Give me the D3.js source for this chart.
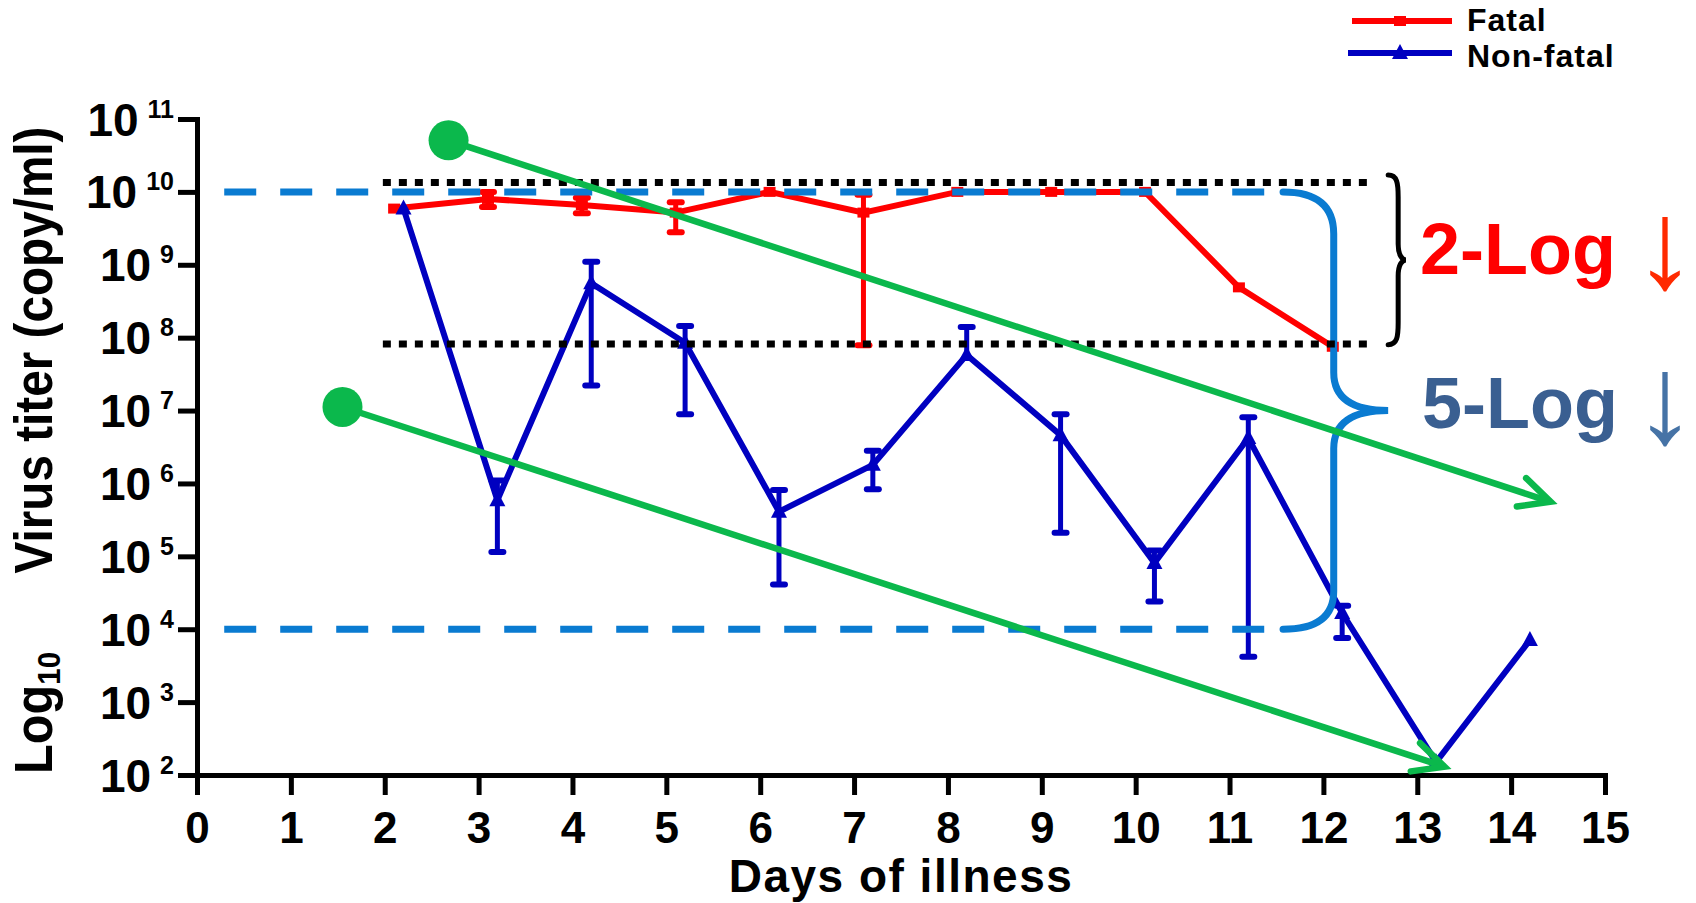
<!DOCTYPE html>
<html>
<head>
<meta charset="utf-8">
<script src="https://cdn.jsdelivr.net/npm/d3@7"></script>
<style>
  body { margin: 0; background: #fff; }
  text { font-family: "Liberation Sans", Arial, sans-serif; font-weight: bold; }
</style>
</head>
<body>
<script>
// tick values
var dayTicks = d3.range(0, 16);
var titerTicks = [1e2, 1e3, 1e4, 1e5, 1e6, 1e7, 1e8, 1e9, 1e10, 1e11];

// Fatal group (red)
var fatalDays = [2.1, 3.1, 4.1, 5.1, 6.1, 7.1, 8.1, 9.1, 10.1, 11.1, 12.1];
var fatalTiter = [5.9e9, 8.0e9, 6.6e9, 5.2e9, 1.0e10, 5.2e9, 1.0e10, 1.0e10, 1.0e10, 4.9e8, 7.5e7];
var fatalHigh = [null, 1.0e10, 8.3e9, 7.2e9, null, 9.1e9, null, null, null, null, null];
var fatalLow = [null, 6.2e9, 5.1e9, 2.8e9, null, 7.9e7, null, null, null, null, null];

// Non-fatal group (blue)
var nonFatalDays = [2.2, 3.2, 4.2, 5.2, 6.2, 7.2, 8.2, 9.2, 10.2, 11.2, 12.2, 13.2, 14.2];
var nonFatalTiter = [5.9e9, 5.9e5, 5.6e8, 8.5e7, 4.1e5, 1.8e6, 5.8e7, 4.6e6, 8.1e4, 4.2e6, 1.67e4, 1.5e2, 7.1e3];
var nonFatalHigh = [null, 1.1e6, 1.1e9, 1.45e8, 8.1e5, 2.8e6, 1.4e8, 8.9e6, 1.2e5, 8.1e6, 2.1e4, null, null];
var nonFatalLow = [null, 1.15e5, 2.2e7, 8.9e6, 4.1e4, 8.3e5, null, 2.1e5, 2.4e4, 4.2e3, 7.6e3, null, null];

// annotations (data units)
var dottedLevels = [1.35e10, 8.2e7];      // black dotted band (2-Log)
var dottedDays = [1.98, 12.47];
var dashedLevels = [1e10, 1e4];          // blue dashed band (5-Log)
var dashedDays = [0.29, 11.57];
var blueBrace = { day: 12.11, tipDay: 12.69, tip: 1e7 };
var blackBrace = { day: 12.69, tipDay: 12.88, top: 1.7e10, bottom: 8.0e7 };
var trendStart = [[2.68, 5.1e10], [1.55, 1.12e7]];
var trendEnd = [[14.42, 5.6e5], [13.29, 1.3e2]];

var W = 1696, H = 903;
var red = "#ff0000", blue = "#0000c0", green = "#0bb84c", lightBlue = "#0a7bd1";

var svg = d3.select("body").append("svg").attr("width", W).attr("height", H);

var x = d3.scaleLinear().domain([0, 15]).range([197, 1605]);
var y = d3.scaleLog().domain([1e2, 1e11]).range([775, 119]);

// axes
var gx = svg.append("g")
  .attr("transform", "translate(0," + y(1e2) + ")")
  .call(d3.axisBottom(x).tickValues(dayTicks).tickSize(20).tickSizeOuter(0).tickPadding(17));
var gy = svg.append("g")
  .attr("transform", "translate(" + x(0) + ",0)")
  .call(d3.axisLeft(y).tickValues(titerTicks).tickFormat("").tickSize(19).tickSizeOuter(0));

[gx, gy].forEach(function (g) {
  g.select(".domain").attr("stroke", "#000").attr("stroke-width", 5).attr("stroke-linecap", "square");
  g.selectAll(".tick line").attr("stroke", "#000").attr("stroke-width", 5);
});
gx.selectAll(".tick text")
  .attr("fill", "#000")
  .style("font-size", "44px");

// y labels: "10" with superscript exponent
gy.selectAll(".tick").each(function (d) {
  var e = Math.round(Math.log10(d));
  var t = d3.select(this);
  var sup = t.append("text")
    .attr("x", -23)
    .attr("y", -2)
    .attr("text-anchor", "end")
    .attr("fill", "#000")
    .style("font-size", "25px")
    .text(e);
  var w = sup.node().getComputedTextLength();
  t.append("text")
    .attr("x", -23 - w - 9)
    .attr("y", 16)
    .attr("text-anchor", "end")
    .attr("fill", "#000")
    .style("font-size", "46px")
    .text("10");
});

// axis titles
svg.append("text")
  .attr("x", (x(0) + x(15)) / 2)
  .attr("y", 892)
  .attr("text-anchor", "middle")
  .style("font-size", "46px")
  .style("letter-spacing", "1.5px")
  .text("Days of illness");

svg.append("g")
  .attr("transform", "translate(52," + 350 + ") rotate(-90) scale(0.9,1)")
  .append("text")
  .attr("text-anchor", "middle")
  .style("font-size", "53px")
  .text("Virus titer (copy/ml)");

var logLabel = svg.append("g")
  .attr("transform", "translate(52,774) rotate(-90) scale(0.92,1)")
  .append("text")
  .style("font-size", "53px");
logLabel.append("tspan").text("Log");
logLabel.append("tspan").attr("dy", 8).style("font-size", "32px").text("10");

// series
function drawSeries(days, titer, high, low, color, marker) {
  var pts = days.map(function (d, i) {
    return { day: d, v: titer[i], hi: high[i], lo: low[i] };
  });
  var g = svg.append("g");
  var line = d3.line().x(function (d) { return x(d.day); }).y(function (d) { return y(d.v); });

  var bars = g.selectAll(".err").data(pts.filter(function (d) { return d.hi || d.lo; }))
    .enter().append("g");
  bars.append("line")
    .attr("x1", function (d) { return x(d.day); })
    .attr("x2", function (d) { return x(d.day); })
    .attr("y1", function (d) { return y(d.hi || d.v); })
    .attr("y2", function (d) { return y(d.lo || d.v); })
    .attr("stroke", color).attr("stroke-width", 5);
  ["hi", "lo"].forEach(function (k) {
    bars.filter(function (d) { return d[k]; }).append("line")
      .attr("x1", function (d) { return x(d.day) - 6; })
      .attr("x2", function (d) { return x(d.day) + 6; })
      .attr("y1", function (d) { return y(d[k]); })
      .attr("y2", function (d) { return y(d[k]); })
      .attr("stroke", color).attr("stroke-width", 6).attr("stroke-linecap", "round");
  });

  g.append("path").datum(pts)
    .attr("d", line)
    .attr("fill", "none")
    .attr("stroke", color)
    .attr("stroke-width", 6)
    .attr("stroke-linejoin", "miter");

  g.selectAll(".mk").data(pts).enter().append("path")
    .attr("transform", function (d) { return "translate(" + x(d.day) + "," + y(d.v) + ")"; })
    .attr("d", marker)
    .attr("fill", color);
}

var square = "M-6,-5H6V5H-6Z";
var triangle = "M0,-9L8,6H-8Z";
drawSeries(fatalDays, fatalTiter, fatalHigh, fatalLow, red, square);
drawSeries(nonFatalDays, nonFatalTiter, nonFatalHigh, nonFatalLow, blue, triangle);

// blue dashed band with brace
dashedLevels.forEach(function (lv) {
  svg.append("line")
    .attr("x1", x(dashedDays[0])).attr("x2", x(dashedDays[1]))
    .attr("y1", y(lv)).attr("y2", y(lv))
    .attr("stroke", lightBlue).attr("stroke-width", 7)
    .attr("stroke-dasharray", "32,24");
});
(function () {
  var x0 = x(dashedDays[1]), xv = x(blueBrace.day), xt = x(blueBrace.tipDay);
  var y1 = y(dashedLevels[0]), y2 = y(dashedLevels[1]), yt = y(blueBrace.tip);
  var p = d3.path();
  p.moveTo(x0, y1);
  p.quadraticCurveTo(xv, y1, xv, y1 + 42);
  p.lineTo(xv, yt - 38);
  p.quadraticCurveTo(xv, yt, xt, yt);
  p.quadraticCurveTo(xv, yt, xv, yt + 38);
  p.lineTo(xv, y2 - 38);
  p.quadraticCurveTo(xv, y2, x0, y2);
  svg.append("path").attr("d", p.toString())
    .attr("fill", "none").attr("stroke", lightBlue)
    .attr("stroke-width", 7).attr("stroke-linecap", "round");
})();

// black dotted band with brace
dottedLevels.forEach(function (lv) {
  svg.append("line")
    .attr("x1", x(dottedDays[0])).attr("x2", x(dottedDays[1]))
    .attr("y1", y(lv)).attr("y2", y(lv))
    .attr("stroke", "#000").attr("stroke-width", 7)
    .attr("stroke-dasharray", "8,8");
});
(function () {
  var x0 = x(blackBrace.day), xt = x(blackBrace.tipDay);
  var top = y(blackBrace.top), bot = y(blackBrace.bottom), mid = (top + bot) / 2;
  var xs = x0 + 10;
  var p = d3.path();
  p.moveTo(x0, top);
  p.bezierCurveTo(x0 + 9, top, xs, top + 8, xs, top + 22);
  p.lineTo(xs, mid - 16);
  p.bezierCurveTo(xs, mid - 5, xt - 4, mid, xt, mid);
  p.bezierCurveTo(xt - 4, mid, xs, mid + 5, xs, mid + 16);
  p.lineTo(xs, bot - 22);
  p.bezierCurveTo(xs, bot - 8, x0 + 9, bot, x0, bot);
  svg.append("path").attr("d", p.toString())
    .attr("fill", "none").attr("stroke", "#000")
    .attr("stroke-width", 5).attr("stroke-linecap", "round");
})();

// green trend arrows
trendStart.forEach(function (s, i) {
  var e = trendEnd[i];
  var x1 = x(s[0]), y1 = y(s[1]), x2 = x(e[0]), y2 = y(e[1]);
  var a = Math.atan2(y2 - y1, x2 - x1);
  var g = svg.append("g");
  g.append("line")
    .attr("x1", x1).attr("y1", y1).attr("x2", x2).attr("y2", y2)
    .attr("stroke", green).attr("stroke-width", 6.5);
  var wing = 34, spread = 26 * Math.PI / 180;
  var p = d3.path();
  p.moveTo(x2 - wing * Math.cos(a - spread), y2 - wing * Math.sin(a - spread));
  p.lineTo(x2, y2);
  p.lineTo(x2 - wing * Math.cos(a + spread), y2 - wing * Math.sin(a + spread));
  g.append("path").attr("d", p.toString())
    .attr("fill", "none").attr("stroke", green)
    .attr("stroke-width", 6.5).attr("stroke-linecap", "round").attr("stroke-linejoin", "miter");
  g.append("circle").attr("cx", x1).attr("cy", y1).attr("r", 20).attr("fill", green);
});

// 2-Log / 5-Log labels
svg.append("text").attr("x", 1420).attr("y", 274)
  .attr("fill", "#ff0000").style("font-size", "72px").text("2-Log");
svg.append("text").attr("x", 1665).attr("y", 288).attr("text-anchor", "middle")
  .attr("fill", "#ff2a00").style("font-size", "126px").style("font-weight", "normal").text("\u2193");
svg.append("text").attr("x", 1422).attr("y", 428)
  .attr("fill", "#3a5f91").style("font-size", "72px").text("5-Log");
svg.append("text").attr("x", 1665).attr("y", 443).attr("text-anchor", "middle")
  .attr("fill", "#4673a6").style("font-size", "126px").style("font-weight", "normal").text("\u2193");

// legend
var legend = [
  { name: "Fatal", color: red, marker: square, y: 21, x0: 1352, base: 31 },
  { name: "Non-fatal", color: blue, marker: triangle, y: 53, x0: 1348, base: 67 }
];
var lg = svg.selectAll(".lg").data(legend).enter().append("g");
lg.append("line")
  .attr("x1", function (d) { return d.x0; }).attr("x2", 1452)
  .attr("y1", function (d) { return d.y; }).attr("y2", function (d) { return d.y; })
  .attr("stroke", function (d) { return d.color; }).attr("stroke-width", 6);
lg.append("path")
  .attr("transform", function (d) { return "translate(1400," + d.y + ")"; })
  .attr("d", function (d) { return d.marker; })
  .attr("fill", function (d) { return d.color; });
lg.append("text")
  .attr("x", 1467).attr("y", function (d) { return d.base; })
  .style("font-size", "32px")
  .style("letter-spacing", "1px")
  .text(function (d) { return d.name; });
</script>
</body>
</html>
